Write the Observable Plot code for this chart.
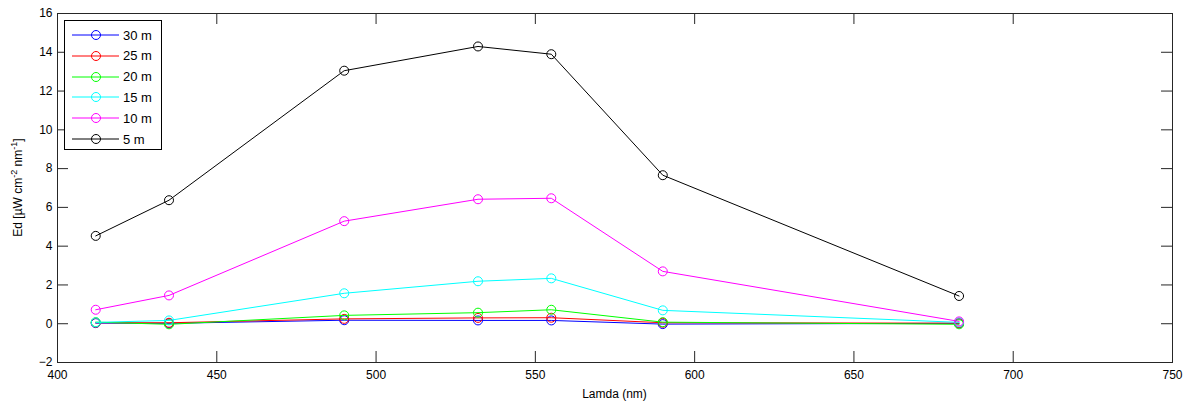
<!DOCTYPE html>
<html>
<head>
<meta charset="utf-8">
<script src="https://cdn.jsdelivr.net/npm/d3@7"></script>
<script src="https://cdn.jsdelivr.net/npm/@observablehq/plot@0.6"></script>
<style>
  html, body { margin: 0; padding: 0; background: #fff; }
  #wrap { position: relative; width: 1194px; height: 408px; }
  #legend {
    position: absolute; left: 64px; top: 20px; width: 98px; height: 130px;
    border: 1px solid #000; background: #fff; box-sizing: border-box;
    font-family: "Liberation Sans", Arial, sans-serif; font-size: 13px;
  }
  .row { position: absolute; left: 0; height: 20px; display: flex; align-items: center; }
  .row svg { display: block; }
  .row span { margin-left: 4px; }
</style>
</head>
<body>
<div id="wrap"></div>
<script>
// ---- data ----
const wavelengths = [412, 435, 490, 532, 555, 590, 683];
const depths = ["30 m", "25 m", "20 m", "15 m", "10 m", "5 m"];
const colors = ["#0000ff", "#ff0000", "#00ff00", "#00ffff", "#ff00ff", "#000000"];
const ed30 = [0.03, 0.02, 0.18, 0.17, 0.17, -0.02, 0.02];
const ed25 = [0.05, 0.05, 0.25, 0.30, 0.31, 0.05, 0.03];
const ed20 = [0.08, -0.03, 0.43, 0.57, 0.72, 0.08, -0.03];
const ed15 = [0.07, 0.17, 1.57, 2.19, 2.34, 0.69, 0.07];
const ed10 = [0.72, 1.46, 5.29, 6.42, 6.47, 2.70, 0.12];
const ed5  = [4.53, 6.37, 13.05, 14.30, 13.90, 7.66, 1.43];
const xTicks = [400, 450, 500, 550, 600, 650, 700, 750];
const yTicks = [-2, 0, 2, 4, 6, 8, 10, 12, 14, 16];
const xLabel = "Lamda (nm)";

const seriesValues = [ed30, ed25, ed20, ed15, ed10, ed5];
const series = depths.map((name, i) => ({
  name, color: colors[i],
  data: wavelengths.map((w, j) => ({w, v: seriesValues[i][j]}))
}));

const W = 1194, H = 408;
const mL = 57, mR = 22, mT = 13, mB = 46;
const fw = W - mL - mR, fh = H - mT - mB;
const tick = 11;
const font = '"Liberation Sans", Arial, sans-serif';

const marks = [];
for (const s of series) {
  marks.push(Plot.line(s.data, {x: "w", y: "v", stroke: s.color, strokeWidth: 1}));
  marks.push(Plot.dot(s.data, {x: "w", y: "v", stroke: s.color, r: 4.5, strokeWidth: 1, fill: "none"}));
}

const svg = Plot.plot({
  width: W, height: H,
  marginLeft: mL, marginRight: mR, marginTop: mT, marginBottom: mB,
  style: {fontFamily: font, fontSize: "12px", color: "#000", background: "#fff"},
  x: {domain: [400, 750], ticks: xTicks},
  y: {domain: [-2, 16], ticks: yTicks},
  marks: [
    ...marks,
    Plot.tickX(xTicks, {x: d => d, insetTop: fh - tick, stroke: "#262626"}),
    Plot.tickX(xTicks, {x: d => d, insetBottom: fh - tick, stroke: "#262626"}),
    Plot.tickY(yTicks, {y: d => d, insetRight: fw - tick, stroke: "#262626"}),
    Plot.tickY(yTicks, {y: d => d, insetLeft: fw - tick, stroke: "#262626"}),
    Plot.frame({stroke: "#262626"}),
    Plot.axisX(xTicks, {tickSize: 0, tickPadding: 8, label: null, fontSize: 12}),
    Plot.axisY(yTicks, {tickSize: 0, tickPadding: 5, label: null, fontSize: 12})
  ]
});

const sel = d3.select(svg);
sel.append("text")
  .attr("x", mL + fw / 2).attr("y", 398)
  .attr("text-anchor", "middle")
  .attr("font-family", font).attr("font-size", 12)
  .text(xLabel);

const yl = sel.append("text")
  .attr("transform", `translate(22,${mT + fh / 2}) rotate(-90)`)
  .attr("text-anchor", "middle")
  .attr("font-family", font).attr("font-size", 12);
yl.append("tspan").text("Ed [\u00b5W cm");
yl.append("tspan").attr("dy", -5).attr("font-size", 9).text("-2");
yl.append("tspan").attr("dy", 5).text(" nm");
yl.append("tspan").attr("dy", -5).attr("font-size", 9).text("-1");
yl.append("tspan").attr("dy", 5).text("]");

const wrap = document.getElementById("wrap");
wrap.appendChild(svg);

// legend (inside plot area, top-left)
const legend = document.createElement("div");
legend.id = "legend";
depths.forEach((name, i) => {
  const row = document.createElement("div");
  row.className = "row";
  row.style.top = (4 + i * 20.8) + "px";
  row.style.left = "7px";
  row.innerHTML = `<svg width="47" height="20"><line x1="0" x2="47" y1="10" y2="10" stroke="${colors[i]}" stroke-width="1"/><circle cx="24" cy="10" r="4.5" fill="none" stroke="${colors[i]}" stroke-width="1"/></svg><span>${name}</span>`;
  legend.appendChild(row);
});
wrap.appendChild(legend);
</script>
</body>
</html>
